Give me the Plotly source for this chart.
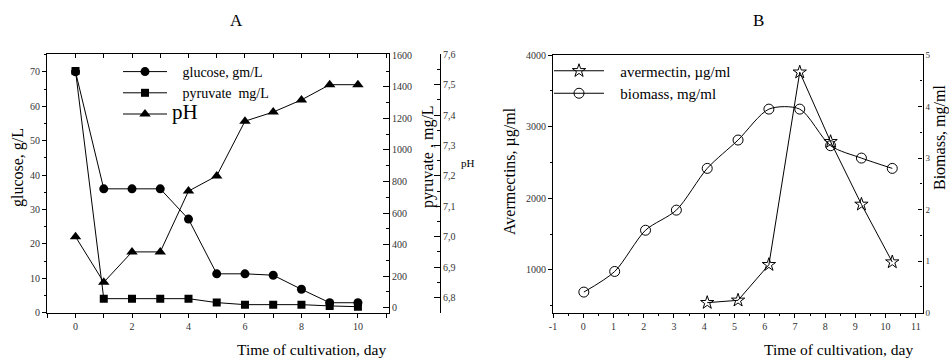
import plotly.graph_objects as go

W, H = 949, 358
FONT = "Liberation Serif"

# ---------------- data ----------------
days = [0, 1, 2, 3, 4, 5, 6, 7, 8, 9, 10]
glucose = [70, 36, 36, 36, 27.2, 11.3, 11.3, 10.9, 6.8, 2.9, 2.9]
pyruvate = [1500, 57, 57, 57, 57, 32, 19, 19, 19, 11, 6]
ph = [7.0, 6.85, 6.95, 6.95, 7.15, 7.2, 7.38, 7.41, 7.45, 7.5, 7.5]

aver_days = [4, 5, 6, 7, 8, 9, 10]
avermectin = [544, 577, 1074, 3760, 2790, 1916, 1111]
biomass = [0.40, 0.80, 1.60, 1.99, 2.80, 3.35, 3.95, 3.95, 3.24, 3.00, 2.80]

# tick labels
a_x_vals = [-1, 0, 1, 2, 3, 4, 5, 6, 7, 8, 9, 10, 11]
a_x_text = ["", "0", "", "2", "", "4", "", "6", "", "8", "", "10", ""]
glu_vals = [0, 10, 20, 30, 40, 50, 60, 70]
glu_text = ["0", "10", "20", "30", "40", "50", "60", "70"]
pyr_vals = [0, 200, 400, 600, 800, 1000, 1200, 1400, 1600]
pyr_text = ["0", "200", "400", "600", "800", "1000", "1200", "1400", "1600"]
ph_vals = [6.8, 6.9, 7.0, 7.1, 7.2, 7.3, 7.4, 7.5, 7.6]
ph_text = ["6,8", "6,9", "7,0", "7,1", "7,2", "7,3", "7,4", "7,5", "7,6"]
b_x_vals = [-1, 0, 1, 2, 3, 4, 5, 6, 7, 8, 9, 10, 11]
b_x_text = ["-1", "0", "1", "2", "3", "4", "5", "6", "7", "8", "9", "10", "11"]
av_vals = [1000, 2000, 3000, 4000]
av_text = ["1000", "2000", "3000", "4000"]
bio_vals = [0, 1, 2, 3, 4, 5]
bio_text = ["0", "1", "2", "3", "4", "5"]


def px(x):
    return x / W


def py(y):
    return 1 - y / H


tickfont = dict(family=FONT, size=10, color="#333")
axline = dict(showline=True, linecolor="black", linewidth=1.2, showgrid=False, automargin=False,
              zeroline=False, tickcolor="black", tickfont=tickfont)
NB = "\u00a0"

fig = go.Figure()

# ---- Panel A ----
fig.add_trace(go.Scatter(x=days, y=glucose, name=NB * 3 + "glucose, gm/L", mode="lines+markers",
                         line=dict(color="black", width=1), marker=dict(symbol="circle", size=9, color="black"),
                         xaxis="x", yaxis="y", legend="legend"))
fig.add_trace(go.Scatter(x=days, y=pyruvate, name=NB * 3 + "pyruvate  mg/L", mode="lines+markers",
                         line=dict(color="black", width=1), marker=dict(symbol="square", size=8, color="black"),
                         xaxis="x", yaxis="y2", legend="legend"))
fig.add_trace(go.Scatter(x=days, y=ph, name="<span style='font-size:21px'>pH</span>", mode="lines+markers",
                         line=dict(color="black", width=1), marker=dict(symbol="triangle-up", size=10, color="black"),
                         xaxis="x", yaxis="y3", legend="legend"))
# empty helper trace so the top tick axis of panel A is created
fig.add_trace(go.Scatter(x=[None], y=[None], xaxis="x4", yaxis="y", showlegend=False, hoverinfo="skip"))

# ---- Panel B ----
# empty helper trace so the visible day axis of panel B is created
fig.add_trace(go.Scatter(x=[None], y=[None], xaxis="x2", yaxis="y4", showlegend=False, hoverinfo="skip"))
fig.add_trace(go.Scatter(x=aver_days, y=avermectin, name=NB * 3 + "avermectin, \u00b5g/ml", mode="lines+markers",
                         line=dict(color="black", width=1),
                         marker=dict(symbol="star-open", size=10, color="black", line=dict(width=1)),
                         xaxis="x3", yaxis="y4", legend="legend2"))
fig.add_trace(go.Scatter(x=days, y=biomass, name=NB * 3 + "biomass, mg/ml", mode="lines+markers",
                         line=dict(color="black", width=1, shape="spline", smoothing=0.8),
                         marker=dict(symbol="circle-open", size=10, color="black", line=dict(width=1)),
                         xaxis="x3", yaxis="y5", legend="legend2"))

A_dom = [px(47), px(389)]
A_ydom = [py(312.7), py(54.3)]
B_dom = [px(553), px(922.5)]
B_ydom = [py(312.7), py(55)]

fig.update_layout(
    width=W, height=H,
    margin=dict(l=0, r=0, t=0, b=0, pad=0, autoexpand=False),
    paper_bgcolor="white", plot_bgcolor="rgba(0,0,0,0)",
    font=dict(family=FONT, color="black"),
    xaxis=dict(domain=A_dom, range=[-1.01, 11.1], anchor="y", tickvals=a_x_vals, ticktext=a_x_text,
               ticks="outside", ticklen=4, **axline),
    xaxis4=dict(domain=A_dom, range=[-1.01, 11.1], anchor="y", overlaying="x", side="top",
                tickvals=a_x_vals, ticks="inside", ticklen=4, showticklabels=False, automargin=False,
                showline=True, linecolor="black", linewidth=1.2, showgrid=False, zeroline=False, tickcolor="black"),
    yaxis=dict(domain=A_ydom, range=[0, 75.1], anchor="x", tickvals=glu_vals, ticktext=glu_text,
               ticks="outside", ticklen=4, minor=dict(dtick=5, tick0=0, ticks="outside", ticklen=2, tickcolor="black"),
               **axline),
    yaxis2=dict(range=[-32, 1606], overlaying="y", anchor="x", side="right",
                tickvals=pyr_vals, ticktext=pyr_text, ticks="inside", ticklen=6,
                minor=dict(dtick=100, tick0=0, ticks="inside", ticklen=3, tickcolor="black"), **axline),
    yaxis3=dict(range=[6.75, 7.6], overlaying="y", anchor="free", position=px(440), side="right",
                tickvals=ph_vals, ticktext=ph_text, ticks="inside", ticklen=6,
                minor=dict(dtick=0.05, tick0=6.75, ticks="inside", ticklen=3, tickcolor="black"), **axline),
    xaxis2=dict(domain=B_dom, range=[-1.0, 11.22], anchor="y4", tickvals=b_x_vals, ticktext=b_x_text,
                ticks="outside", ticklen=4, minor=dict(dtick=0.5, tick0=0, ticks="outside", ticklen=2, tickcolor="black"),
                mirror=True, **axline),
    xaxis3=dict(domain=B_dom, range=[-1.0, 10.98], anchor="y4", overlaying="x2", visible=False, automargin=False),
    yaxis4=dict(domain=B_ydom, range=[404, 4000], anchor="x2", tickvals=av_vals, ticktext=av_text,
                ticks="outside", ticklen=4, minor=dict(dtick=500, tick0=0, ticks="outside", ticklen=2, tickcolor="black"),
                **axline),
    yaxis5=dict(range=[0, 5], overlaying="y4", anchor="x2", side="right",
                tickvals=bio_vals, ticktext=bio_text, ticks="inside", ticklen=4, automargin=False,
                tickfont=dict(family=FONT, size=9, color="#333"),
                minor=dict(dtick=0.5, tick0=0, ticks="inside", ticklen=2, tickcolor="black"),
                showline=True, linecolor="black", linewidth=1.2, showgrid=False, zeroline=False, tickcolor="black"),
    legend=dict(x=px(118), y=py(56), xanchor="left", yanchor="top", bgcolor="rgba(0,0,0,0)",
                font=dict(family=FONT, size=14), itemwidth=44, tracegroupgap=0),
    legend2=dict(x=px(549), y=py(54.5), xanchor="left", yanchor="top", bgcolor="rgba(0,0,0,0)",
                 font=dict(family=FONT, size=15), itemwidth=50, tracegroupgap=0),
    showlegend=True,
)

ann = [
    dict(text="A", x=px(236.7), y=py(21), size=17, angle=0),
    dict(text="B", x=px(758), y=py(21), size=17, angle=0),
    dict(text="glucose, g/L", x=px(18), y=py(168), size=16, angle=-90),
    dict(text="pyruvate , mg/L", x=px(428), y=py(157), size=16, angle=-90),
    dict(text="pH", x=px(468), y=py(163), size=11, angle=0),
    dict(text="Time of cultivation, day", x=px(311.7), y=py(349), size=15.5, angle=0),
    dict(text="Time of cultivation, day", x=px(838), y=py(349), size=15.5, angle=0),
    dict(text="Avermectins, \u00b5g/ml", x=px(510), y=py(171), size=16, angle=-90),
    dict(text="Biomass, mg/ml", x=px(940), y=py(138), size=16, angle=-90),
]
for a in ann:
    fig.add_annotation(text=a["text"], x=a["x"], y=a["y"], xref="paper", yref="paper",
                       xanchor="center", yanchor="middle", showarrow=False, textangle=a["angle"],
                       font=dict(family=FONT, size=a["size"], color="black"))

fig.write_html("out.html", config={"displayModeBar": False},
               post_script="document.body.style.margin='0';document.body.style.overflow='hidden';")
